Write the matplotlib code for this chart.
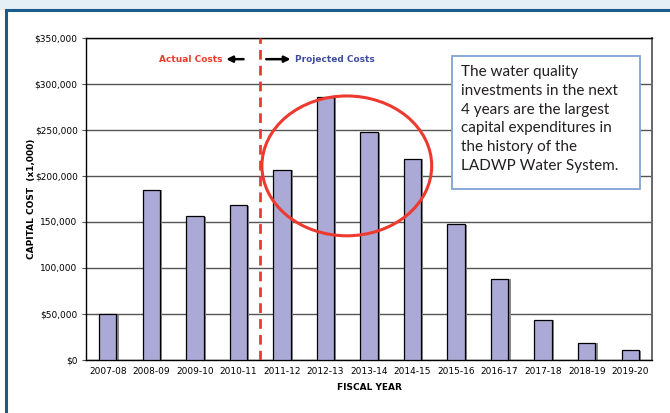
import matplotlib.pyplot as plt
from matplotlib.patches import Ellipse, Rectangle
from matplotlib.ticker import FuncFormatter

# Capital cost by fiscal year, in thousands of dollars
YEARS = ['2007-08', '2008-09', '2009-10', '2010-11', '2011-12', '2012-13', '2013-14',
         '2014-15', '2015-16', '2016-17', '2017-18', '2018-19', '2019-20']
COSTS = [50000, 185000, 156000, 168000, 207000, 285500, 247500,
         219000, 147500, 88500, 44000, 19000, 10500]
Y_TICKS = [0, 50000, 100000, 150000, 200000, 250000, 300000, 350000]
Y_LABELS = ['$0', '$50,000', '100,000', '150,000', '$200,000', '$250,000',
            '$300,000', '$350,000']
SPLIT = 3.5  # between actual and projected

BAR = '#aba9d5'
RED = '#ee3a2e'
BLUE = '#3f4f9f'

fig = plt.figure(figsize=(6.7, 4.13), dpi=100)

# page frame: light strip at top, dark blue border
fig.patches.append(Rectangle((0, 1 - 10/413), 1, 10/413, transform=fig.transFigure,
                             facecolor='#e4eff6', edgecolor='none', zorder=0))
fig.patches.append(Rectangle((6/670, -0.05), 1.0, 1 - 10/413 + 0.05,
                             transform=fig.transFigure, facecolor='white',
                             edgecolor='#1b5c8e', linewidth=2.2, zorder=1))

ax = fig.add_axes([86/670, 1 - 360/413, 566/670, 322/413])
ax.set_zorder(2)
x = range(len(YEARS))

# drop shadow then bars
ax.bar([i + 0.05 for i in x], [c - 600 for c in COSTS], width=0.40,
       color='#8c8c8c', edgecolor='none', zorder=2)
ax.bar(x, COSTS, width=0.40, color=BAR, edgecolor='black', linewidth=0.9, zorder=3)

ax.set_xlim(-0.5, len(YEARS) - 0.5)
ax.set_ylim(0, 350000)
ax.set_yticks(Y_TICKS)
ax.yaxis.set_major_formatter(FuncFormatter(lambda v, p: Y_LABELS[Y_TICKS.index(int(v))]))
ax.set_xticks(list(x))
ax.set_xticklabels(YEARS)
ax.tick_params(axis='both', labelsize=6.5, length=0, pad=5)
ax.tick_params(axis='y', length=3, color='#555555', pad=3)
ax.grid(axis='y', color='#555555', linewidth=1.0, zorder=1)
ax.set_axisbelow(True)
for s in ['left', 'bottom', 'top']:
    ax.spines[s].set_color('black')
    ax.spines[s].set_linewidth(1.0)
ax.spines['right'].set_color('#666666')
ax.spines['right'].set_linewidth(1.4)

ax.set_xlabel('FISCAL YEAR', fontsize=6.5, fontweight='bold', labelpad=5)
ax.set_ylabel('CAPITAL COST  (x1,000)', fontsize=6.5, fontweight='bold')
ax.yaxis.set_label_coords(-0.088, 0.5)

# actual / projected divider
ax.axvline(SPLIT, color=RED, linewidth=2, linestyle=(0, (3.5, 2.2)), zorder=4)
ax.annotate('', xy=(SPLIT - 0.78, 327000), xytext=(SPLIT - 0.38, 327000),
            arrowprops=dict(arrowstyle='-|>', color='black', lw=1.8,
                            mutation_scale=9, shrinkA=0, shrinkB=0))
ax.annotate('', xy=(SPLIT + 0.7, 327000), xytext=(SPLIT + 0.14, 327000),
            arrowprops=dict(arrowstyle='-|>', color='black', lw=1.8,
                            mutation_scale=9, shrinkA=0, shrinkB=0))
ax.text(SPLIT - 0.86, 327000, 'Actual Costs', color=RED, fontsize=6.5,
        fontweight='bold', ha='right', va='center')
ax.text(SPLIT + 0.8, 327000, 'Projected Costs', color=BLUE, fontsize=6.5,
        fontweight='bold', ha='left', va='center')

# highlight ellipse round the four peak years
ax.add_patch(Ellipse((5.49, 211000), 3.9, 152000, fill=False, edgecolor=RED,
                     linewidth=2.2, zorder=5))

# call-out box
ax.add_patch(Rectangle((7.906, 185900), 4.318, 144500, facecolor='white',
                       edgecolor='#7ea4d2', linewidth=1.3, zorder=6))
ax.text(8.11, 320500,
        'The water quality\ninvestments in the next\n4 years are the largest\n'
        'capital expenditures in\nthe history of the\nLADWP Water System.',
        fontsize=11, family='Lato', color='#231f20', ha='left', va='top',
        linespacing=1.43, zorder=7)

fig.savefig('out.png', dpi=100)
